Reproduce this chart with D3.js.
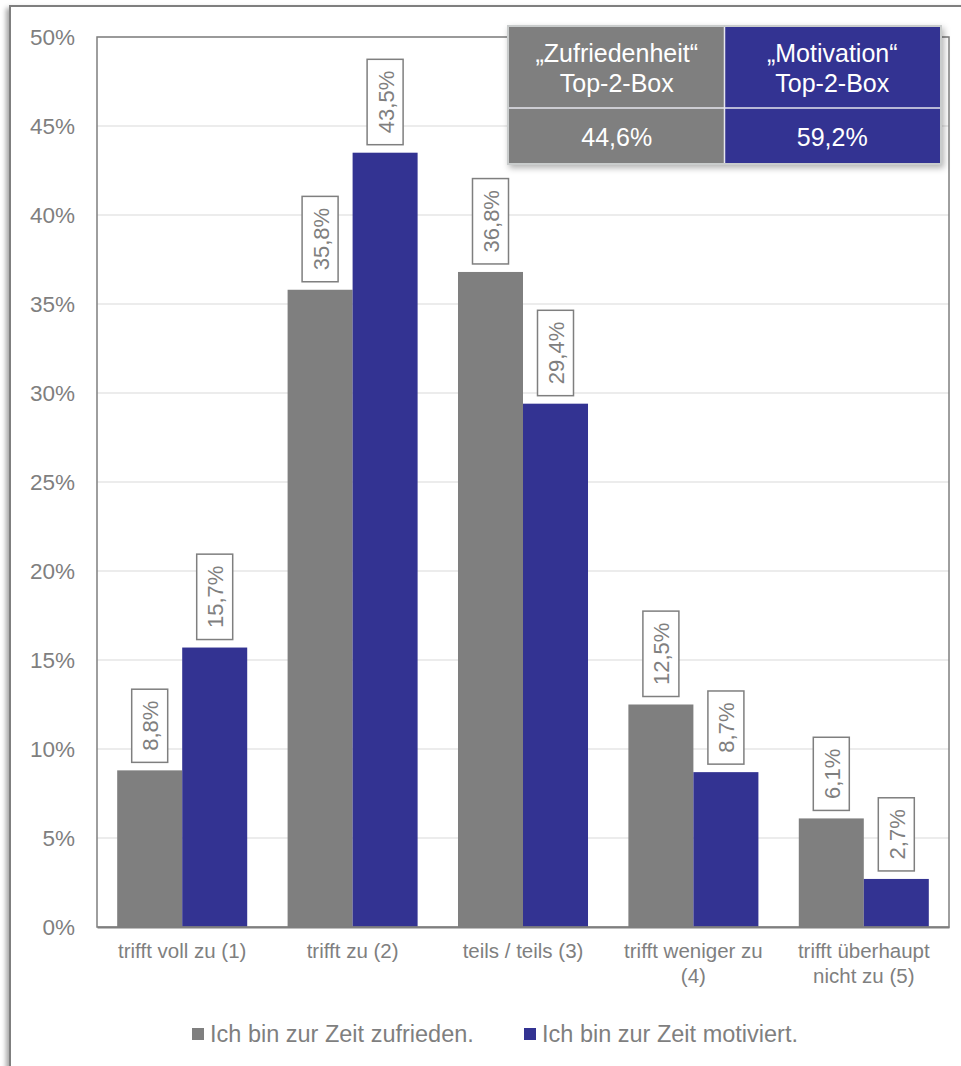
<!DOCTYPE html>
<html>
<head>
<meta charset="utf-8">
<script src="https://cdn.jsdelivr.net/npm/d3@7"></script>
<style>
  html, body { margin: 0; padding: 0; background: #fff; }
  svg { display: block; font-family: "Liberation Sans", Arial, sans-serif; }
</style>
</head>
<body>
<svg id="chart" width="961" height="1066"></svg>
<script>
// Answer categories (line breaks mark wrapped axis labels)
const categories = [
  "trifft voll zu (1)",
  "trifft zu (2)",
  "teils / teils (3)",
  "trifft weniger zu\n(4)",
  "trifft überhaupt\nnicht zu (5)"
];
const seriesNames = ["Ich bin zur Zeit zufrieden.", "Ich bin zur Zeit motiviert."];
const zufrieden = [8.8, 35.8, 36.8, 12.5, 6.1];
const motiviert = [15.7, 43.5, 29.4, 8.7, 2.7];
const yTicks = [0, 5, 10, 15, 20, 25, 30, 35, 40, 45, 50];
const boxTitles = [["„Zufriedenheit“", "Top-2-Box"], ["„Motivation“", "Top-2-Box"]];

const colors = ["#7f7f7f", "#333392"];
const textGray = "#7f7f7f";
const fmt = v => d3.format(".1f")(v).replace(".", ",") + "%";

const svg = d3.select("#chart");
const defs = svg.append("defs");

const outerShadow = defs.append("filter").attr("id", "outerShadow")
  .attr("x", "-5%").attr("y", "-5%").attr("width", "110%").attr("height", "110%");
outerShadow.append("feDropShadow").attr("dx", -3).attr("dy", 3)
  .attr("stdDeviation", 2.5).attr("flood-color", "#000").attr("flood-opacity", 0.35);

const tableShadow = defs.append("filter").attr("id", "tableShadow")
  .attr("x", "-10%").attr("y", "-10%").attr("width", "120%").attr("height", "130%");
tableShadow.append("feDropShadow").attr("dx", 2).attr("dy", 3)
  .attr("stdDeviation", 3).attr("flood-color", "#000").attr("flood-opacity", 0.3);

// Outer chart frame
svg.append("rect")
  .attr("x", 10).attr("y", 6).attr("width", 970).attr("height", 1080)
  .attr("fill", "#fff").attr("stroke", "#7f7f7f").attr("stroke-width", 2)
  .attr("filter", "url(#outerShadow)");

const plot = { left: 97, right: 949, top: 37, bottom: 927 };

const y = d3.scaleLinear().domain([0, 50]).range([plot.bottom, plot.top]);
const x0 = d3.scaleBand().domain(categories)
  .range([plot.left, plot.right]).paddingInner(0.237).paddingOuter(0.1185);
const x1 = d3.scaleBand().domain(seriesNames).range([0, x0.bandwidth()]);

// Gridlines
svg.append("g").selectAll("line").data(yTicks.slice(1)).join("line")
  .attr("x1", plot.left).attr("x2", plot.right)
  .attr("y1", d => y(d)).attr("y2", d => y(d))
  .attr("stroke", "#d9d9d9").attr("stroke-width", 1.2);

// Y axis labels
const yAxis = svg.append("g").attr("transform", `translate(${plot.left},0)`)
  .call(d3.axisLeft(y).tickValues(yTicks).tickSize(0).tickPadding(22)
    .tickFormat(d => d + "%"));
yAxis.select(".domain").remove();
yAxis.selectAll("text").attr("fill", textGray)
  .style("font-size", "22.5px").style("font-family", "Liberation Sans, Arial, sans-serif");

// Bars
const rows = categories.map((c, i) => ({ cat: c, vals: [zufrieden[i], motiviert[i]] }));
const groups = svg.append("g").selectAll("g").data(rows).join("g")
  .attr("transform", d => `translate(${x0(d.cat)},0)`);

groups.selectAll("rect").data(d => d.vals.map((v, k) => ({ v, k })))
  .join("rect")
  .attr("x", d => x1(seriesNames[d.k]))
  .attr("y", d => y(d.v))
  .attr("width", x1.bandwidth())
  .attr("height", d => y(0) - y(d.v))
  .attr("fill", d => colors[d.k]);

// Value labels in framed boxes, rotated
const labelFont = 22;
const labels = groups.selectAll("g.lbl").data(d => d.vals.map((v, k) => ({ v, k })))
  .join("g").attr("class", "lbl")
  .attr("transform", d => `translate(${x1(seriesNames[d.k]) + x1.bandwidth() / 2},${y(d.v) - 8})`);

labels.each(function (d) {
  const g = d3.select(this);
  const t = g.append("text")
    .attr("transform", "rotate(-90)")
    .attr("text-anchor", "middle")
    .attr("dominant-baseline", "central")
    .attr("fill", textGray)
    .style("font-size", labelFont + "px")
    .text(fmt(d.v));
  const len = t.node().getComputedTextLength();
  const h = len + 23, w = 36;
  t.attr("x", h / 2).attr("y", 1);
  g.insert("rect", "text")
    .attr("x", -w / 2).attr("y", -h).attr("width", w).attr("height", h)
    .attr("fill", "#fff").attr("stroke", "#7f7f7f").attr("stroke-width", 1.5);
  t.attr("transform", `translate(0,${-h / 2}) rotate(-90)`).attr("x", 0).attr("y", 1);
});

// Plot frame
svg.append("rect")
  .attr("x", plot.left).attr("y", plot.top)
  .attr("width", plot.right - plot.left).attr("height", plot.bottom - plot.top)
  .attr("fill", "none").attr("stroke", "#7f7f7f").attr("stroke-width", 1.5);

// Category axis
const xAxis = svg.append("g").attr("transform", `translate(0,${plot.bottom})`)
  .call(d3.axisBottom(x0).tickSize(0).tickFormat(""));
xAxis.select(".domain").attr("stroke", "#7f7f7f").attr("stroke-width", 2);
xAxis.selectAll(".tick").each(function (c) {
  const lines = c.split("\n");
  const t = d3.select(this).append("text")
    .attr("text-anchor", "middle").attr("fill", textGray)
    .style("font-size", "20.5px");
  lines.forEach((ln, i) => t.append("tspan").attr("x", 0).attr("y", 31 + i * 25).text(ln));
});

// Legend
const legendX = [192, 524];
const legend = svg.append("g").selectAll("g").data(seriesNames).join("g")
  .attr("transform", (d, i) => `translate(${legendX[i]},1028)`);
legend.append("rect").attr("width", 12).attr("height", 12).attr("fill", (d, i) => colors[i]);
legend.append("text").attr("x", 18).attr("y", 14).attr("fill", textGray)
  .style("font-size", "23.5px").text(d => d);

// Top-2-box summary table
const top2 = [d3.sum(zufrieden.slice(0, 2)), d3.sum(motiviert.slice(0, 2))];
const tbl = { x: 507, y: 25, w: 435, h: 140, split: 83 };
const tg = svg.append("g");
tg.append("rect").attr("x", tbl.x).attr("y", tbl.y).attr("width", tbl.w).attr("height", tbl.h)
  .attr("fill", "#c9cccc").attr("filter", "url(#tableShadow)");
const cellW = (tbl.w - 4) / 2;
top2.forEach((v, i) => {
  const cx = tbl.x + 2 + i * cellW;
  tg.append("rect").attr("x", cx).attr("y", tbl.y + 2)
    .attr("width", cellW).attr("height", tbl.h - 4).attr("fill", colors[i]);
  const mid = cx + cellW / 2;
  const t = tg.append("text").attr("text-anchor", "middle").attr("fill", "#fff")
    .style("font-size", "25px");
  boxTitles[i].forEach((ln, j) => t.append("tspan").attr("x", mid).attr("y", 62 + j * 30).text(ln));
  tg.append("text").attr("x", mid).attr("y", 146).attr("text-anchor", "middle")
    .attr("fill", "#fff").style("font-size", "25px").text(fmt(v));
});
// cell separators
tg.append("line").attr("x1", tbl.x + 2).attr("x2", tbl.x + tbl.w - 2)
  .attr("y1", tbl.y + tbl.split).attr("y2", tbl.y + tbl.split)
  .attr("stroke", "#e6e6ee").attr("stroke-width", 1.5);
tg.append("line").attr("x1", tbl.x + 2 + cellW).attr("x2", tbl.x + 2 + cellW)
  .attr("y1", tbl.y + 2).attr("y2", tbl.y + tbl.h - 2)
  .attr("stroke", "#e6e6ee").attr("stroke-width", 1.5);
</script>
</body>
</html>
